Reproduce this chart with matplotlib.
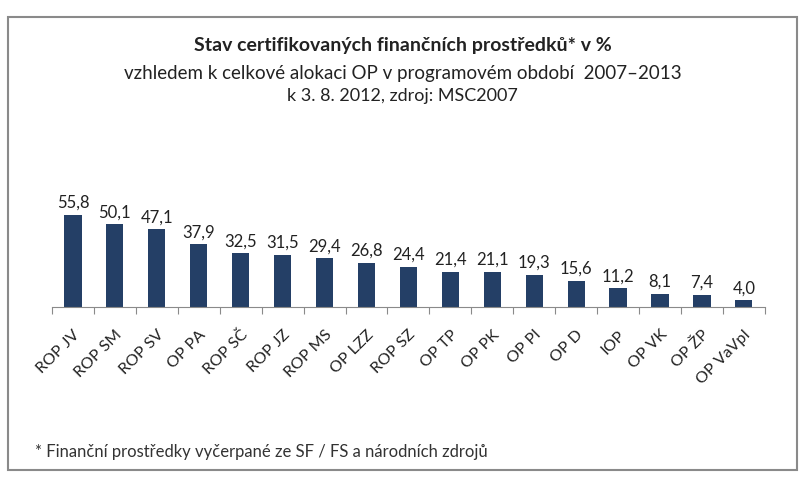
import matplotlib.pyplot as plt
from matplotlib.patches import Rectangle

plt.rcParams['font.family'] = ['Lato', 'DejaVu Sans']

programy = ['ROP JV', 'ROP SM', 'ROP SV', 'OP PA', 'ROP SČ', 'ROP JZ', 'ROP MS',
            'OP LZZ', 'ROP SZ', 'OP TP', 'OP PK', 'OP PI', 'OP D', 'IOP',
            'OP VK', 'OP ŽP', 'OP VaVpI']
hodnoty = [55.8, 50.1, 47.1, 37.9, 32.5, 31.5, 29.4, 26.8, 24.4, 21.4, 21.1,
           19.3, 15.6, 11.2, 8.1, 7.4, 4.0]

fig = plt.figure(figsize=(8.05, 4.84), dpi=100)
fig.patch.set_facecolor('white')

# outer frame
fig.add_artist(Rectangle((0.010, 0.028), 0.980, 0.937, transform=fig.transFigure,
                         fill=False, edgecolor='#8a8a8a', linewidth=1.5))

ax = fig.add_axes([0.0646, 0.366, 0.8855, 0.245])
x = range(len(programy))
ax.bar(x, hodnoty, width=0.41, color='#243f66')
for i, v in enumerate(hodnoty):
    ax.text(i, v + 2.5, f'{v:.1f}'.replace('.', ','), ha='center', va='bottom',
            fontsize=12, color='#222222')

ax.set_xlim(-0.5, len(programy) - 0.5)
ax.set_ylim(0, 72)
for s in ['top', 'right', 'left']:
    ax.spines[s].set_visible(False)
ax.spines['bottom'].set_color('#8a8a8a')
ax.set_yticks([])
ax.set_xticks([i - 0.5 for i in range(len(programy) + 1)])
ax.set_xticklabels([])
ax.tick_params(axis='x', length=5, color='#8a8a8a')
ax.set_xticks(list(x), minor=True)
ax.set_xticklabels(programy, minor=True, rotation=45, ha='right',
                   rotation_mode='anchor', fontsize=11.5, color='#222222')
ax.tick_params(axis='x', which='minor', length=0, pad=15)

fig.text(0.5, 0.905, 'Stav certifikovaných finančních prostředků* v %',
         ha='center', va='center', fontsize=14, fontweight='bold', color='#222222')
fig.text(0.5, 0.849, 'vzhledem k celkové alokaci OP v programovém období  2007–2013',
         ha='center', va='center', fontsize=13.5, color='#222222')
fig.text(0.5, 0.801, 'k 3. 8. 2012, zdroj: MSC2007',
         ha='center', va='center', fontsize=13, color='#222222')
fig.text(0.043, 0.066, '* Finanční prostředky vyčerpané ze SF / FS a národních zdrojů',
         ha='left', va='center', fontsize=12, color='#333333')

fig.savefig('out.png', dpi=100)
